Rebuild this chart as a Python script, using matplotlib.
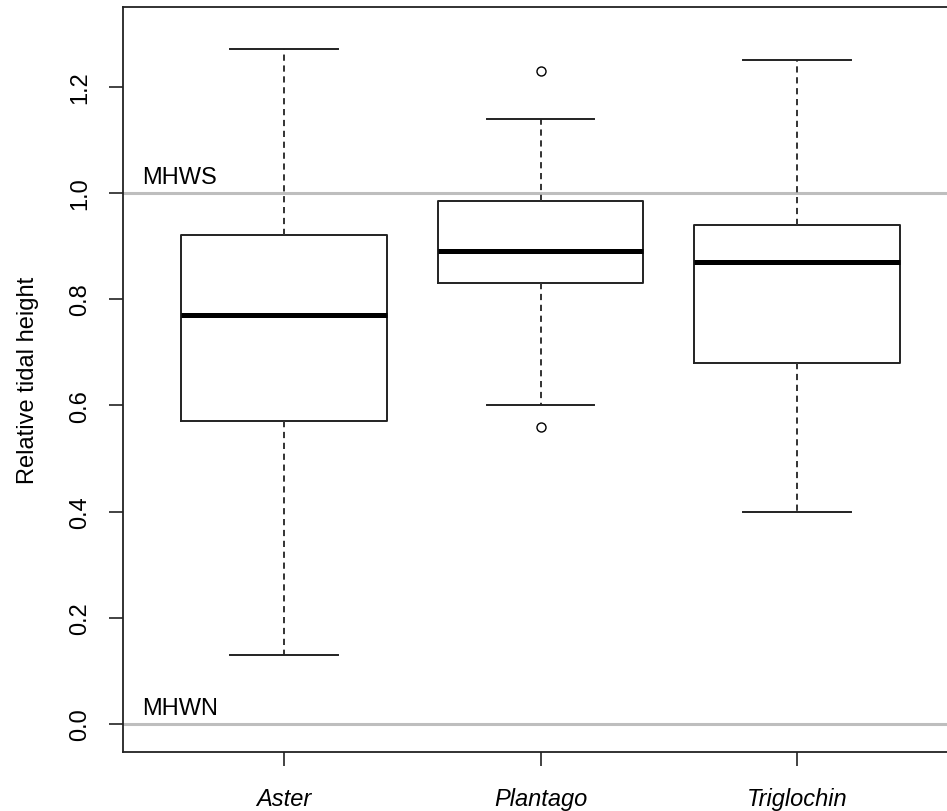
## boxplot of relative tidal height per species, R look
import matplotlib.pyplot as plt

species = ["Aster", "Plantago", "Triglochin"]
whislo = [0.13, 0.60, 0.40]
q1 = [0.57, 0.83, 0.68]
med = [0.77, 0.89, 0.87]
q3 = [0.92, 0.985, 0.94]
whishi = [1.27, 1.14, 1.25]
fliers = [[], [1.23, 0.56], []]

ref_lines = [1.0, 0.0]
ref_names = ["MHWS", "MHWN"]
yticks = [0.0, 0.2, 0.4, 0.6, 0.8, 1.0, 1.2]

plt.rcParams['font.family'] = ['Liberation Sans', 'DejaVu Sans']

fig = plt.figure(figsize=[9.47, 8.12], dpi=100)
W, H = 947, 812
# axes runs past the right edge of the figure like in the reference
ax = fig.add_axes([123 / W, 1 - 753 / H, 835 / W, 745 / H])

stats = []
for i in range(len(species)):
    stats.append(dict(label=species[i], whislo=whislo[i], q1=q1[i], med=med[i],
                      q3=q3[i], whishi=whishi[i], fliers=fliers[i]))

for y in ref_lines:
    ax.axhline(y, color="#bebebe", lw=2.2, zorder=1)
for y, name in zip(ref_lines, ref_names):
    ax.text(0.446, y + 0.018, name, fontsize=17, va="baseline", ha="left")

ax.bxp(stats, positions=[1, 2, 3], widths=0.8, capwidths=0.42,
       boxprops=dict(color="#222222", lw=1.4),
       medianprops=dict(color="black", lw=3.6, solid_capstyle="butt"),
       whiskerprops=dict(color="#333333", lw=1.4, linestyle=(0, (3.2, 2.4))),
       capprops=dict(color="#222222", lw=1.4),
       flierprops=dict(marker="o", markerfacecolor="none", markeredgecolor="black",
                       markersize=6.5, markeredgewidth=1.0),
       zorder=2)

ax.set_xlim(0.372, 3.628)
ax.set_ylim(-0.0527, 1.350)
ax.set_yticks(yticks)
ax.set_yticklabels(["%.1f" % v for v in yticks], rotation=90, va="center", fontsize=17)
ax.set_xticks([1, 2, 3])
ax.set_xticklabels(species, fontsize=17, style="italic")
ax.tick_params(length=10, width=1.2, color="#222222", direction="out")
ax.tick_params(axis="y", pad=13)
ax.tick_params(axis="x", pad=15)
ax.set_ylabel("Relative tidal height", fontsize=17, labelpad=22)
for s in ax.spines.values():
    s.set_linewidth(1.3)
    s.set_color("#222222")

fig.savefig("out.png", dpi=100)
